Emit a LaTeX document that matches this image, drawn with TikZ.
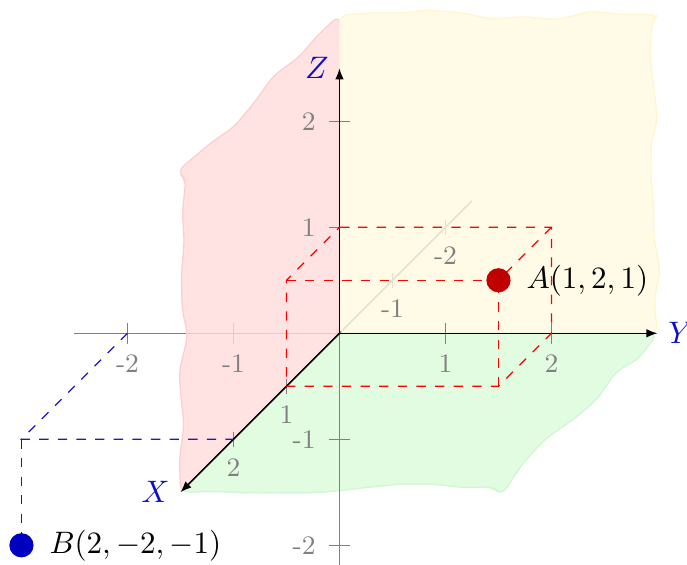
\documentclass[tikz,border=0pt]{standalone}
\usetikzlibrary{decorations.pathmorphing,arrows.meta}
\definecolor{axlab}{RGB}{15,15,200}
\definecolor{pinkF}{RGB}{255,220,220}
\definecolor{pinkD}{RGB}{255,205,205}
\definecolor{yelF}{RGB}{255,250,225}
\definecolor{yelD}{RGB}{255,246,205}
\definecolor{grnF}{RGB}{226,252,226}
\definecolor{grnD}{RGB}{208,247,208}
\definecolor{dotAc}{RGB}{192,0,0}
\definecolor{dotBc}{RGB}{0,0,192}
\definecolor{dashB}{RGB}{25,25,190}
\begin{document}
\begin{tikzpicture}[x={(-0.6cm,-0.6cm)},y={(1.2cm,0cm)},z={(0cm,1.2cm)},
  wobble/.style={decoration={random steps,segment length=10pt,amplitude=1.8pt},rounded corners=2.5pt},
  negax/.style={gray,line width=0.5pt},
  posax/.style={black,line width=0.5pt,-{Latex[length=3.6pt,width=2.8pt]}},
  tickmark/.style={gray,line width=0.5pt},
  ticklab/.style={text=gray,font=\fontsize{8.6}{10}\selectfont,inner sep=0pt},
  axlabel/.style={text=axlab,font=\normalsize},
  guideA/.style={red,dashed,line width=0.4pt},
  guideB/.style={dashB,dashed,line width=0.4pt},
  ptdot/.style={circle,inner sep=0pt,minimum size=7.8pt},
]
\useasboundingbox (-3.843cm,-2.612cm) rectangle (3.934cm,3.773cm);
\pgfmathsetseed{11}
% key points
\coordinate (O) at (0,0,0);
\coordinate (X3) at (3,0,0);
\coordinate (Y3) at (0,3,0);
\coordinate (Zt) at (0,0,2.5);
\coordinate (Z3) at (0,0,3);
\coordinate (XY3) at (3,3,0);
\coordinate (XZ3) at (3,0,3);
\coordinate (YZ3) at (0,3,3);
\coordinate (Xn) at (-2.5,0,0);
\coordinate (Yn) at (0,-2.5,0);
\coordinate (Zn) at (0,0,-2.2);
% green plane
\filldraw[fill=grnF,draw=grnD,wobble] (O) -- (X3) decorate {-- (XY3) -- (Y3)} -- cycle;
% negative axes
\draw[negax] (Xn) -- (O);
\draw[negax] (Yn) -- (O);
\draw[negax] (Zn) -- (O);
\foreach \k in {-2,-1}{
  \draw[tickmark] (\k,0,-0.07) -- (\k,0,0.07);
  \draw[tickmark] (0,\k,-0.1) -- (0,\k,0.1);
  \draw[tickmark] (0,-0.1,\k) -- (0,0.1,\k);
}
% pink and yellow planes
\filldraw[fill=pinkF,fill opacity=0.8,draw=pinkD,wobble] (O) -- (X3) decorate {-- (XZ3) -- (Z3)} -- cycle;
\filldraw[fill=yelF,fill opacity=0.8,draw=yelD,wobble] (O) -- (Y3) decorate {-- (YZ3) -- (Z3)} -- cycle;
% positive ticks
\foreach \k in {1,2}{
  \draw[tickmark] (\k,0,-0.07) -- (\k,0,0.07);
  \draw[tickmark] (0,\k,-0.1) -- (0,\k,0.1);
  \draw[tickmark] (0,-0.1,\k) -- (0,0.1,\k);
}
% positive axes
\draw[posax] (O) -- (X3);
\draw[posax] (O) -- (Y3);
\draw[posax] (O) -- (Zt);
% tick labels
\foreach \k in {-2,-1,1,2}{
  \node[ticklab,yshift=-9pt] (tx\k) at (\k,0,0) {\k};
  \node[ticklab,yshift=-9.8pt] (ty\k) at (0,\k,0) {\k};
  \node[ticklab,anchor=east,xshift=-7.5pt] (tz\k) at (0,0,\k) {\k};
}
% axis labels
\node[axlabel,left] (Xl) at (X3) {$X$};
\node[axlabel,right] (Yl) at (Y3) {$Y$};
\node[axlabel,left] (Zl) at (Zt) {$Z$};
% guide box for A
\coordinate (Ap) at (1,2,1);
\coordinate (A1) at (0,0,1);
\coordinate (A2) at (0,2,1);
\coordinate (A3) at (1,0,1);
\coordinate (A4) at (1,0,0);
\coordinate (A5) at (1,2,0);
\coordinate (A6) at (0,2,0);
\draw[guideA] (A1) -- (A2) -- (A6) -- (A5) -- (A4) -- (A3) -- (A1);
\draw[guideA] (A3) -- (Ap);
\draw[guideA] (A2) -- (Ap);
\draw[guideA] (A5) -- (Ap);
% guide lines for B
\coordinate (Bp) at (2,-2,-1);
\coordinate (B0) at (2,-2,0);
\coordinate (By) at (0,-2,0);
\coordinate (Bx) at (2,0,0);
\draw[guideB] (By) -- (B0) -- (Bx);
\draw[guideB] (B0) -- (Bp);
% points
\node[ptdot,fill=dotAc] (A) at (Ap) {};
\node[ptdot,fill=dotBc] (B) at (Bp) {};
\node[anchor=west,xshift=5.5pt] (Alab) at (Ap) {$A(1,2,1)$};
\node[anchor=west,xshift=5.5pt] (Blab) at (Bp) {$B(2,-2,-1)$};
\end{tikzpicture}
\end{document}
